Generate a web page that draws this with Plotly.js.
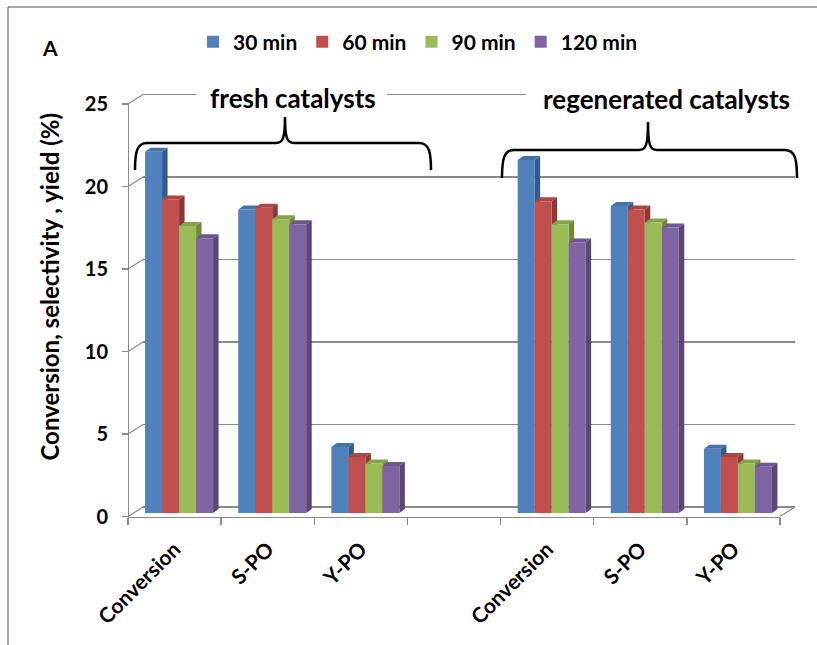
<!DOCTYPE html>
<html>
<head>
<meta charset="utf-8">
<script src="https://cdn.plot.ly/plotly-3.0.1.min.js"></script>
<style>
  html, body { margin: 0; padding: 0; background: #ffffff; }
  #chart { width: 817px; height: 645px; }
</style>
</head>
<body>
<div id="chart"></div>
<script>
// ---- data ----
const categories = ['Conversion', 'S-PO', 'Y-PO'];
const groups = ['fresh catalysts', 'regenerated catalysts'];
const seriesNames = ['30 min', '60 min', '90 min', '120 min'];
// values in %, ordered [Conversion, S-PO, Y-PO]
const fresh30  = [21.9, 18.4, 4.0];
const fresh60  = [19.0, 18.5, 3.4];
const fresh90  = [17.4, 17.8, 3.0];
const fresh120 = [16.65, 17.5, 2.85];
const regen30  = [21.4, 18.6, 3.9];
const regen60  = [18.9, 18.4, 3.4];
const regen90  = [17.5, 17.6, 3.0];
const regen120 = [16.4, 17.3, 2.8];
const yTicks = [0, 5, 10, 15, 20, 25];

// ---- styling ----
const FONT = 'Lato, "Open Sans", "DejaVu Sans", sans-serif';
const frontColors = ['#4F81BD', '#C0504D', '#9BBB59', '#8064A2'];
const topColors   = ['#4472AB', '#AA4643', '#86A34C', '#6E568F'];
const sideColors  = ['#335A8A', '#8C3836', '#6F893C', '#5A4775'];
const GRID = '#8a8a8a';

// ---- geometry of the pseudo-3D box (pixels) ----
const W = 817, H = 645;
const FRONT_L = 128, FRONT_R = 780, FRONT_Y0 = 516.5;   // front floor edge / value axis
const BACK_L = 143, BACK_R = 795, BACK_Y0 = 507;        // back wall
const UNIT = 16.5;                                      // px per 1 %
const PLANE_DX = 4.5, PLANE_Y0 = 513;                   // plane of the bar fronts
const PLOT_TOP = 86, PLOT_BOT = 524;
const NSLOT = 7;
const SLOT = (FRONT_R - FRONT_L) / NSLOT;
const DEPTH_DX = 5.5, DEPTH_DY = 4;                     // bar depth in px

const px = x => x / W;
const py = y => (H - y) / H;

// bar layout
const bargap = 0.27;
const nS = seriesNames.length;
const bw = (1 - bargap) / nS;
const ddx = DEPTH_DX / SLOT;
const ddy = DEPTH_DY / UNIT;

const seriesData = [
  [fresh30, regen30],
  [fresh60, regen60],
  [fresh90, regen90],
  [fresh120, regen120]
];
// slot index on the category axis: fresh = 0..2, empty slot 3, regenerated = 4..6
const slotOf = (g, c) => g * (categories.length + 1) + c;
const slots = [];
groups.forEach((g, gi) => categories.forEach((c, ci) => slots.push(slotOf(gi, ci))));

const traces = [];
// empty traces that register the wall subplot and the front-axis subplot
traces.push({type: 'scatter', x: [], y: [], xaxis: 'x', yaxis: 'y', showlegend: false, hoverinfo: 'skip'});
traces.push({type: 'scatter', x: [], y: [], xaxis: 'x4', yaxis: 'y4', showlegend: false, hoverinfo: 'skip'});

// top and side faces of every column
seriesData.forEach((pair, k) => {
  const vals = pair[0].concat(pair[1]);
  const top = {x: [], y: []}, side = {x: [], y: []};
  vals.forEach((v, i) => {
    const u = slots[i];
    const xl = u - (1 - bargap) / 2 + k * bw, xr = xl + bw;
    top.x.push(xl, xl + ddx, xr + ddx, xr, xl, null);
    top.y.push(v, v + ddy, v + ddy, v, v, null);
    side.x.push(xr, xr + ddx, xr + ddx, xr, xr, null);
    side.y.push(0, ddy, v + ddy, v, 0, null);
  });
  traces.push({type: 'scatter', mode: 'lines', x: top.x, y: top.y, fill: 'toself',
    fillcolor: topColors[k], line: {width: 0, color: topColors[k]},
    xaxis: 'x2', yaxis: 'y2', showlegend: false, hoverinfo: 'skip'});
  traces.push({type: 'scatter', mode: 'lines', x: side.x, y: side.y, fill: 'toself',
    fillcolor: sideColors[k], line: {width: 0, color: sideColors[k]},
    xaxis: 'x2', yaxis: 'y2', showlegend: false, hoverinfo: 'skip'});
});

// front faces of the columns
seriesData.forEach((pair, k) => {
  traces.push({
    type: 'bar', name: seriesNames[k], x: slots, y: pair[0].concat(pair[1]),
    marker: {color: frontColors[k], line: {width: 0}},
    xaxis: 'x3', yaxis: 'y3', hoverinfo: 'y+name'
  });
});

// ranges so the overlaid axes map onto the bar plane
const planeX = pxv => (pxv - (FRONT_L + PLANE_DX)) / SLOT - 0.5;
const planeRangeX = [planeX(BACK_L), planeX(BACK_R)];
const planeRangeY = [(PLANE_Y0 - PLOT_BOT) / UNIT, (PLANE_Y0 - PLOT_TOP) / UNIT];
const wallRangeY = [(BACK_Y0 - PLOT_BOT) / UNIT, (BACK_Y0 - PLOT_TOP) / UNIT];
const yDomain = [py(PLOT_BOT), py(PLOT_TOP)];

// ---- decorations ----
const shapes = [];
// outer frame
shapes.push({type: 'line', xref: 'paper', yref: 'paper', x0: px(8), y0: py(7), x1: 1, y1: py(7),
  line: {color: '#8a8a8a', width: 1.5}, layer: 'below'});
shapes.push({type: 'line', xref: 'paper', yref: 'paper', x0: px(8), y0: py(7), x1: px(8), y1: 0,
  line: {color: '#8a8a8a', width: 1.5}, layer: 'below'});
// side wall: diagonals from each front tick back to the wall
yTicks.forEach(v => {
  shapes.push({type: 'line', xref: 'paper', yref: 'paper',
    x0: px(FRONT_L), y0: py(FRONT_Y0 - UNIT * v), x1: px(BACK_L), y1: py(BACK_Y0 - UNIT * v),
    line: {color: GRID, width: 1.2}, layer: 'below'});
});
// floor, right edge
shapes.push({type: 'line', xref: 'paper', yref: 'paper',
  x0: px(FRONT_R), y0: py(FRONT_Y0), x1: px(BACK_R), y1: py(BACK_Y0),
  line: {color: GRID, width: 1.2}, layer: 'below'});

// white boxes behind the group captions
function whiteBox(x0, x1, y0, y1) {
  return {type: 'rect', xref: 'paper', yref: 'paper', x0: px(x0), x1: px(x1), y0: py(y1), y1: py(y0),
    fillcolor: '#ffffff', line: {width: 0}, layer: 'above'};
}
shapes.push(whiteBox(196, 387, 84, 108));
shapes.push(whiteBox(526, 812, 84, 108));

// curly braces over each group
function brace(xl, xr, yBase, yEnd, yTip, xMid) {
  const P = (x, y) => px(x) + ',' + py(y);
  return 'M' + P(xl, yEnd) +
    ' C' + P(xl, yBase + 9) + ' ' + P(xl + 2, yBase) + ' ' + P(xl + 12, yBase) +
    ' L' + P(xMid - 9, yBase) +
    ' C' + P(xMid - 2, yBase) + ' ' + P(xMid, yBase - 5) + ' ' + P(xMid, yTip) +
    ' C' + P(xMid, yBase - 5) + ' ' + P(xMid + 2, yBase) + ' ' + P(xMid + 9, yBase) +
    ' L' + P(xr - 12, yBase) +
    ' C' + P(xr - 2, yBase) + ' ' + P(xr, yBase + 9) + ' ' + P(xr, yEnd);
}
shapes.push({type: 'path', xref: 'paper', yref: 'paper', path: brace(135, 431, 143, 170, 117, 285),
  line: {color: '#000000', width: 2.5}, layer: 'above'});
shapes.push({type: 'path', xref: 'paper', yref: 'paper', path: brace(502, 797, 150, 178, 122, 648),
  line: {color: '#000000', width: 2.5}, layer: 'above'});

const ann = (text, x, y, size, extra) => Object.assign({
  text: text, x: px(x), y: py(y), xref: 'paper', yref: 'paper', showarrow: false,
  xanchor: 'center', yanchor: 'middle',
  font: {family: FONT, size: size, color: '#000', weight: 'bold'}
}, extra || {});

const annotations = [
  ann('A', 50, 47, 21),
  ann(groups[0], 293, 98, 26),
  ann(groups[1], 666, 99, 26),
  ann('Conversion, selectivity , yield (%)', 32, 287, 24, {textangle: -90, xanchor: 'left', yanchor: 'middle'})
];

const catTickVals = slots;
const catTickText = [];
groups.forEach(() => categories.forEach(c => catTickText.push(c)));

const layout = {
  width: W, height: H,
  margin: {l: 0, r: 0, t: 0, b: 0},
  paper_bgcolor: '#ffffff',
  plot_bgcolor: 'rgba(0,0,0,0)',
  font: {family: FONT, color: '#000000', weight: 'bold'},
  barmode: 'group', bargap: bargap, bargroupgap: 0,
  showlegend: true,
  legend: {orientation: 'h', x: px(193), xanchor: 'left', y: py(42), yanchor: 'middle',
    font: {family: FONT, size: 21, color: '#000', weight: 'bold'}, bgcolor: 'rgba(0,0,0,0)'},
  // back wall with its gridlines
  xaxis: {domain: [px(BACK_L), px(BACK_R)], range: [0, 1], anchor: 'y', showgrid: false,
    zeroline: false, showticklabels: false, ticks: '', showline: false, fixedrange: true},
  yaxis: {domain: yDomain, range: wallRangeY, anchor: 'x', tickmode: 'array', tickvals: yTicks,
    showgrid: true, gridcolor: GRID, gridwidth: 1.4, zeroline: false, showticklabels: false,
    ticks: '', showline: false, fixedrange: true},
  // column faces
  xaxis2: {overlaying: 'x', anchor: 'y2', range: planeRangeX, visible: false, fixedrange: true},
  yaxis2: {overlaying: 'y', anchor: 'x2', range: planeRangeY, visible: false, fixedrange: true},
  // column fronts
  xaxis3: {overlaying: 'x', anchor: 'y3', range: planeRangeX, visible: false, fixedrange: true},
  yaxis3: {overlaying: 'y', anchor: 'x3', range: planeRangeY, visible: false, fixedrange: true},
  // front category axis
  xaxis4: {domain: [px(FRONT_L), px(FRONT_R)], range: [-0.5, NSLOT - 0.5], anchor: 'free',
    position: py(FRONT_Y0), showline: true, linecolor: GRID, linewidth: 1.3,
    tickmode: 'array', tickvals: catTickVals, ticktext: catTickText, tickangle: -45,
    ticks: '', ticklabelstandoff: 11,
    tickfont: {family: FONT, size: 21, color: '#000', weight: 'bold'},
    minor: {tickmode: 'linear', tick0: -0.5, dtick: 1, ticks: 'outside', ticklen: 7,
      tickcolor: GRID, tickwidth: 1.3, showgrid: false},
    showgrid: false, zeroline: false, fixedrange: true},
  // front value axis
  yaxis4: {domain: [py(FRONT_Y0), py(FRONT_Y0 - UNIT * 25)], range: [0, 25], anchor: 'free',
    position: px(FRONT_L), side: 'left', showline: true, linecolor: GRID, linewidth: 1.3,
    tickmode: 'array', tickvals: yTicks, ticks: 'outside', ticklen: 6, tickcolor: GRID,
    tickwidth: 1.3, ticklabelstandoff: 10,
    tickfont: {family: FONT, size: 20, color: '#000', weight: 'bold'},
    showgrid: false, zeroline: false, fixedrange: true},
  shapes: shapes,
  annotations: annotations
};

Plotly.newPlot('chart', traces, layout, {displayModeBar: false, staticPlot: true});
</script>
</body>
</html>
